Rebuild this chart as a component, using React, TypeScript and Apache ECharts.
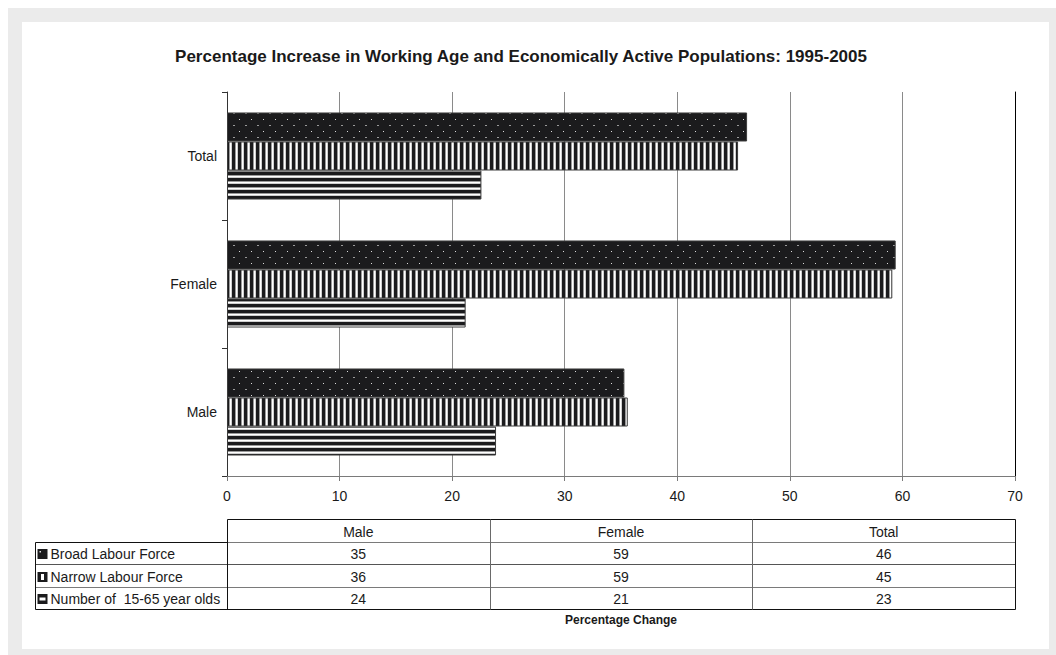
import React, { useEffect, useRef } from "react";
import * as echarts from "echarts";

// Categories along the vertical axis (bottom to top)
const categories = ["Male", "Female", "Total"];

// Series names, in table row order
const seriesNames = [
  "Broad Labour Force",
  "Narrow Labour Force",
  "Number of  15-65 year olds",
];

// Percentage change 1995-2005, per category
const broadLabourForce = [35.3, 59.4, 46.2];
const narrowLabourForce = [35.6, 59.1, 45.4];
const workingAgePopulation = [23.9, 21.2, 22.6];

// Value-axis ticks
const xMin = 0;
const xMax = 70;
const xStep = 10;

const TITLE =
  "Percentage Increase in Working Age and Economically Active Populations: 1995-2005";
const AXIS_NAME = "Percentage Change";

const FONT = "'Liberation Sans', Arial, sans-serif";
const INK = "#1a1a1a";

// Plot area inside the chart canvas
const GRID = { left: 205, top: 70, width: 788, height: 384 };

// Data table beneath the plot
const TABLE_LEFT = 13.5;
const TABLE_ROWS_Y = [497.5, 520.5, 542.5, 565.5, 587.5];
const TABLE_FONT_SIZE = 14;
const AXIS_FONT_SIZE = 14;

type Ctx = CanvasRenderingContext2D;

function makePattern(w: number, h: number, draw: (ctx: Ctx) => void) {
  const c = document.createElement("canvas");
  c.width = w;
  c.height = h;
  const ctx = c.getContext("2d") as Ctx;
  draw(ctx);
  return {
    image: c.toDataURL(),
    repeat: "repeat",
    imageWidth: w,
    imageHeight: h,
  };
}

function buildPatterns() {
  // dark fill with a staggered grid of small light dots
  const dots = makePattern(12, 12, (ctx) => {
    ctx.fillStyle = "#1b1b1d";
    ctx.fillRect(0, 0, 12, 12);
    ctx.fillStyle = "#dcdcdc";
    ctx.fillRect(1, 1, 1, 1);
    ctx.fillStyle = "#9a9a9a";
    ctx.fillRect(7, 7, 2, 1);
  });
  // vertical black/white stripes
  const vStripes = makePattern(6, 6, (ctx) => {
    ctx.fillStyle = "#1b1b1d";
    ctx.fillRect(0, 0, 3, 6);
    ctx.fillStyle = "#9a9a9a";
    ctx.fillRect(3, 0, 1, 6);
    ctx.fillStyle = "#ffffff";
    ctx.fillRect(4, 0, 1, 6);
    ctx.fillStyle = "#cfcfcf";
    ctx.fillRect(5, 0, 1, 6);
  });
  // horizontal black/white stripes
  const hStripes = makePattern(6, 6, (ctx) => {
    ctx.fillStyle = "#1b1b1d";
    ctx.fillRect(0, 0, 6, 3);
    ctx.fillStyle = "#9a9a9a";
    ctx.fillRect(0, 3, 6, 1);
    ctx.fillStyle = "#ffffff";
    ctx.fillRect(0, 4, 6, 1);
    ctx.fillStyle = "#cfcfcf";
    ctx.fillRect(0, 5, 6, 1);
  });
  return [dots, vStripes, hStripes];
}

function line(x1: number, y1: number, x2: number, y2: number, stroke: string) {
  return {
    type: "line",
    silent: true,
    shape: { x1, y1, x2, y2 },
    style: { stroke, lineWidth: 1 },
  };
}

function text(
  x: number,
  y: number,
  str: string,
  align: string,
  opts: Record<string, unknown> = {}
) {
  return {
    type: "text",
    silent: true,
    x,
    y,
    style: {
      text: str,
      fill: INK,
      fontFamily: FONT,
      fontSize: TABLE_FONT_SIZE,
      align,
      verticalAlign: "middle",
      ...opts,
    },
  };
}

// small legend swatches shown in the table's first column
function legendKey(kind: number, x: number, y: number) {
  const els: any[] = [
    {
      type: "rect",
      silent: true,
      shape: { x, y, width: 10, height: 10 },
      style: { fill: "#1b1b1d" },
    },
  ];
  if (kind === 0) {
    els.push({
      type: "rect",
      silent: true,
      shape: { x: x + 2, y: y + 2, width: 1.5, height: 1.5 },
      style: { fill: "#e0e0e0" },
    });
  } else if (kind === 1) {
    els.push({
      type: "rect",
      silent: true,
      shape: { x: x + 3.5, y: y + 2, width: 3, height: 6 },
      style: { fill: "#ffffff" },
    });
  } else {
    els.push({
      type: "rect",
      silent: true,
      shape: { x: x + 2, y: y + 3.5, width: 6, height: 3 },
      style: { fill: "#ffffff" },
    });
  }
  return els;
}

function buildTable(values: number[][]) {
  const right = GRID.left + GRID.width + 0.5;
  const left = GRID.left + 0.5;
  const colW = GRID.width / categories.length;
  const [yHead, yR1, yR2, yR3, yBottom] = TABLE_ROWS_Y;
  const els: any[] = [];

  // borders and rules
  els.push(line(left, yHead, right, yHead, "#111"));
  els.push(line(TABLE_LEFT, yR1, left, yR1, "#111"));
  els.push(line(left, yR1, right, yR1, "#7a7a7a"));
  els.push(line(TABLE_LEFT, yR2, right, yR2, "#555"));
  els.push(line(TABLE_LEFT, yR3, right, yR3, "#7a7a7a"));
  els.push(line(TABLE_LEFT, yBottom, right, yBottom, "#111"));
  els.push(line(TABLE_LEFT, yR1, TABLE_LEFT, yBottom, "#111"));
  els.push(line(left, yHead, left, yBottom, "#111"));
  els.push(line(right, yHead, right, yBottom, "#111"));
  for (let i = 1; i < categories.length; i++) {
    const x = Math.round(GRID.left + colW * i) + 0.5;
    els.push(line(x, yHead, x, yBottom, "#6a6a6a"));
  }

  // header
  categories.forEach((c, i) => {
    els.push(text(GRID.left + colW * (i + 0.5), (yHead + yR1) / 2 + 0.5, c, "center"));
  });

  // rows
  const rowY = [yR1, yR2, yR3, yBottom];
  seriesNames.forEach((name, r) => {
    const cy = (rowY[r] + rowY[r + 1]) / 2 + 0.5;
    els.push(...legendKey(r, TABLE_LEFT + 2, Math.round(cy - 5)));
    els.push(text(TABLE_LEFT + 15, cy, name, "left"));
    values[r].forEach((v, i) => {
      els.push(text(GRID.left + colW * (i + 0.5), cy, String(Math.round(v)), "center"));
    });
  });
  return els;
}

export default function App() {
  const ref = useRef<HTMLDivElement>(null);

  useEffect(() => {
    if (!ref.current) return;
    const chart = echarts.init(ref.current, undefined, { renderer: "svg" });
    const patterns = buildPatterns();
    const values = [broadLabourForce, narrowLabourForce, workingAgePopulation];

    const option: any = {
      animation: false,
      textStyle: { fontFamily: FONT, color: INK },
      grid: { ...GRID, containLabel: false },
      xAxis: {
        type: "value",
        min: xMin,
        max: xMax,
        interval: xStep,
        axisLine: { show: true, lineStyle: { color: "#7a7a7a", width: 1 } },
        axisTick: { show: true, length: 5, lineStyle: { color: "#7a7a7a" } },
        axisLabel: { color: INK, fontSize: AXIS_FONT_SIZE, margin: 13, fontFamily: FONT },
        splitLine: { show: true, lineStyle: { color: "#8a8a8a", width: 1 } },
        name: AXIS_NAME,
        nameLocation: "middle",
        nameGap: 138,
        nameTextStyle: { fontWeight: "bold", fontSize: 12, color: INK, fontFamily: FONT },
      },
      yAxis: [
        {
          type: "category",
          data: categories,
          axisLine: { show: true, lineStyle: { color: "#333", width: 1 } },
          axisTick: { show: true, length: 5, lineStyle: { color: "#333" } },
          axisLabel: { color: INK, fontSize: AXIS_FONT_SIZE, margin: 10, fontFamily: FONT },
          splitLine: { show: false },
        },
        {
          type: "category",
          position: "right",
          data: categories,
          axisLine: { show: true, onZero: false, lineStyle: { color: "#000", width: 1 } },
          axisTick: { show: false },
          axisLabel: { show: false },
          splitLine: { show: false },
        },
      ],
      series: values.map((data, i) => ({
        name: seriesNames[i],
        type: "bar",
        yAxisIndex: 0,
        data,
        barGap: "0%",
        barCategoryGap: "32%",
        itemStyle: {
          color: patterns[i],
          borderColor: "#3c3c3c",
          borderWidth: 1,
        },
        emphasis: { disabled: true },
      })),
      graphic: [
        text(499, 34, TITLE, "center", { fontWeight: "bold", fontSize: 17 }),
        ...buildTable(values),
      ],
    };

    chart.setOption(option);
    return () => chart.dispose();
  }, []);

  return (
    <div
      style={{
        position: "absolute",
        left: 8,
        top: 8,
        width: 1048,
        height: 647,
        background: "#ebebeb",
      }}
    >
      <div
        ref={ref}
        style={{
          position: "absolute",
          left: 14,
          top: 14,
          width: 1027,
          height: 627,
          background: "#ffffff",
        }}
      />
    </div>
  );
}
